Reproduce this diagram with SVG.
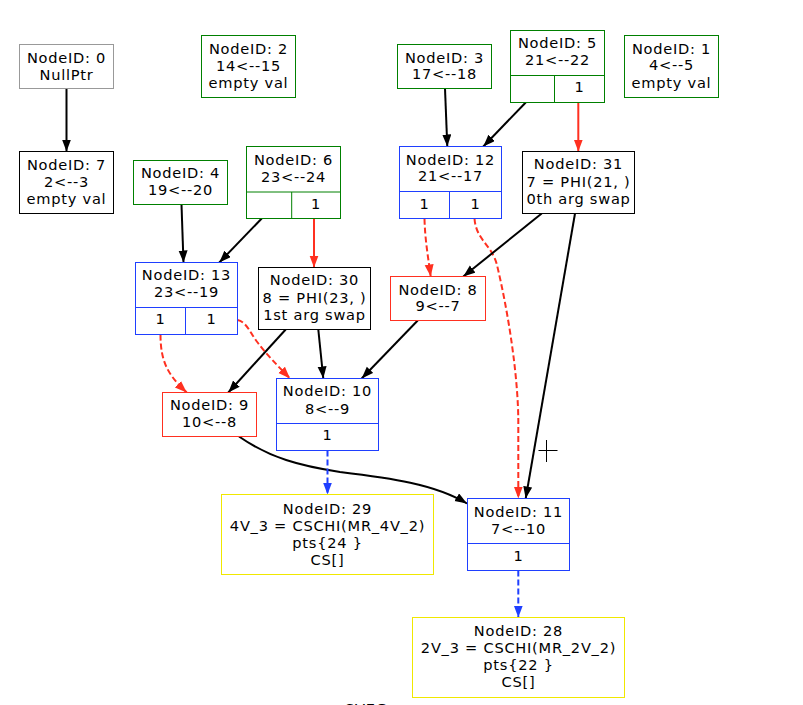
<svg xmlns="http://www.w3.org/2000/svg" width="803" height="705" viewBox="0 0 803 705">
<style>
text{font-family:"DejaVu Sans","Liberation Sans",sans-serif;font-size:14.6px;letter-spacing:0.75px;text-anchor:middle;fill:#000}
.n{fill:#fff;stroke-width:1}
.g{stroke:#008000}.b{stroke:#1f3fff}.r{stroke:#ff3020}.k{stroke:#000}.y{stroke:#f0e800}.gr{stroke:#999}
.e{fill:none;stroke-width:2}
.ek{stroke:#000;marker-end:url(#ak)}
.er{stroke:#ff3020;marker-end:url(#ar)}
.eb{stroke:#1f3fff;marker-end:url(#ab)}
.d{stroke-dasharray:6,3}
</style>
<defs>
<marker id="ak" markerUnits="userSpaceOnUse" markerWidth="13" markerHeight="10" refX="12" refY="4.5" orient="auto"><path d="M0,0 L12,4.5 L0,9 Z" fill="#000"/></marker>
<marker id="ar" markerUnits="userSpaceOnUse" markerWidth="13" markerHeight="10" refX="12" refY="4.5" orient="auto"><path d="M0,0 L12,4.5 L0,9 Z" fill="#ff3020"/></marker>
<marker id="ab" markerUnits="userSpaceOnUse" markerWidth="13" markerHeight="10" refX="12" refY="4.5" orient="auto"><path d="M0,0 L12,4.5 L0,9 Z" fill="#1f3fff"/></marker>
</defs>
<rect width="803" height="705" fill="#fff"/>
<g id="connectors">
<path class="e ek" d="M66.5,88.5 L66.5,151.5"/>
<path class="e ek" d="M181.5,204.5 L183.5,262.5"/>
<path class="e ek" d="M261.7,218.5 L219.3,262.5"/>
<path class="e er" d="M314,218.5 L314,267.5"/>
<path class="e ek" d="M445,88.5 L447.3,146.5"/>
<path class="e ek" d="M525.7,102.5 L483.3,146.5"/>
<path class="e er" d="M578.3,102.5 L578.3,151.5"/>
<path class="e er d" d="M424.5,218.5 C425,240 428,256 430.7,276.5"/>
<path class="e er d" d="M474.5,218.5 C476,240 492,245 497,265 C510,320 518,380 518.3,420 L518.3,498.5"/>
<path class="e ek" d="M541.7,213.5 L463.3,276.5"/>
<path class="e ek" d="M575,213.5 L525.7,498.5"/>
<path class="e ek" d="M417.7,320.5 L361.7,378.5"/>
<path class="e ek" d="M318.3,329.5 L323.3,378.5"/>
<path class="e ek" d="M285.7,329.5 L228.3,392.5"/>
<path class="e er d" d="M160.5,334.5 C160.5,362 168,375 186.7,392.5"/>
<path class="e er d" d="M237.5,320 C247,322 250,333 258,343 C266,354 278,366 290,378.5"/>
<path class="e ek" d="M239,436.5 C270,458 300,466 340,472 C390,478 435,484 467,503.5"/>
<path class="e eb d" d="M327.5,450.5 L327.5,494.5"/>
<path class="e eb d" d="M518.3,570.5 L518.3,617.5"/>
</g>
<g id="node0"><rect class="n gr" x="19.5" y="44.5" width="94" height="44"/><text x="66.5" y="62.5">NodeID: 0</text><text x="66.5" y="79.5">NullPtr</text></g>
<g id="node7"><rect class="n k" x="19.5" y="151.5" width="94" height="62"/><text x="66.5" y="169.5">NodeID: 7</text><text x="66.5" y="186.5">2&lt;--3</text><text x="66.5" y="203.5">empty val</text></g>
<g id="node2"><rect class="n g" x="201.5" y="35.5" width="94" height="62"/><text x="248.5" y="53.5">NodeID: 2</text><text x="248.5" y="70.5">14&lt;--15</text><text x="248.5" y="87.5">empty val</text></g>
<g id="node4"><rect class="n g" x="133.5" y="160.5" width="94" height="44"/><text x="180.5" y="178">NodeID: 4</text><text x="180.5" y="195">19&lt;--20</text></g>
<g id="node6"><rect class="n g" x="246.5" y="146.5" width="94" height="72"/><path class="g" d="M246.5,192 H340.5 M291.7,192 V218.5" fill="none"/><text x="293.5" y="164.5">NodeID: 6</text><text x="293.5" y="181.5">23&lt;--24</text><text x="316" y="208.5">1</text></g>
<g id="node3"><rect class="n g" x="397.5" y="44.5" width="94" height="44"/><text x="444.5" y="62.5">NodeID: 3</text><text x="444.5" y="79">17&lt;--18</text></g>
<g id="node5"><rect class="n g" x="510.5" y="30.5" width="94" height="72"/><path class="g" d="M510.5,75.5 H604.5 M554.5,75.5 V102.5" fill="none"/><text x="557.5" y="48">NodeID: 5</text><text x="557.5" y="65">21&lt;--22</text><text x="579.5" y="92">1</text></g>
<g id="node1"><rect class="n g" x="624.5" y="35.5" width="94" height="62"/><text x="671.5" y="53.5">NodeID: 1</text><text x="671.5" y="70">4&lt;--5</text><text x="671.5" y="87.5">empty val</text></g>
<g id="node12"><rect class="n b" x="399.5" y="146.5" width="102" height="72"/><path class="b" d="M399.5,191.5 H501.5 M449.5,191.5 V218.5" fill="none"/><text x="450.5" y="164.5">NodeID: 12</text><text x="450.5" y="181">21&lt;--17</text><text x="424.5" y="208.5">1</text><text x="475.5" y="208.5">1</text></g>
<g id="node31"><rect class="n k" x="522.5" y="151.5" width="112" height="62"/><text x="578.5" y="169">NodeID: 31</text><text x="578.5" y="186.5">7 = PHI(21, )</text><text x="578.5" y="203.5">0th arg swap</text></g>
<g id="node13"><rect class="n b" x="135.5" y="262.5" width="102" height="72"/><path class="b" d="M135.5,307.5 H237.5 M185.5,307.5 V334.5" fill="none"/><text x="186.5" y="280">NodeID: 13</text><text x="186.5" y="297">23&lt;--19</text><text x="160.5" y="324">1</text><text x="211.5" y="324">1</text></g>
<g id="node30"><rect class="n k" x="258.5" y="267.5" width="112" height="62"/><text x="314.5" y="285">NodeID: 30</text><text x="314.5" y="302.5">8 = PHI(23, )</text><text x="314.5" y="319.5">1st arg swap</text></g>
<g id="node8"><rect class="n r" x="390.5" y="276.5" width="95" height="44"/><text x="438" y="294.5">NodeID: 8</text><text x="438" y="311">9&lt;--7</text></g>
<g id="node9"><rect class="n r" x="162.5" y="392.5" width="94" height="44"/><text x="209.5" y="409.5">NodeID: 9</text><text x="209.5" y="426.5">10&lt;--8</text></g>
<g id="node10"><rect class="n b" x="276.5" y="378.5" width="102" height="72"/><path class="b" d="M276.5,423.5 H378.5" fill="none"/><text x="327.5" y="396">NodeID: 10</text><text x="327.5" y="413.5">8&lt;--9</text><text x="327.5" y="440">1</text></g>
<g id="node29"><rect class="n y" x="221.5" y="494.5" width="212" height="80"/><text x="327.5" y="513.5">NodeID: 29</text><text x="327.5" y="530.5">4V_3 = CSCHI(MR_4V_2)</text><text x="327.5" y="547.5">pts{24 }</text><text x="327.5" y="564.5">CS[]</text></g>
<g id="node11"><rect class="n b" x="467.5" y="498.5" width="102" height="72"/><path class="b" d="M467.5,543.5 H569.5" fill="none"/><text x="518.5" y="516.5">NodeID: 11</text><text x="518.5" y="533.5">7&lt;--10</text><text x="518.5" y="560.5">1</text></g>
<g id="node28"><rect class="n y" x="412.5" y="617.5" width="212" height="80"/><text x="518.5" y="636">NodeID: 28</text><text x="518.5" y="653">2V_3 = CSCHI(MR_2V_2)</text><text x="518.5" y="670">pts{22 }</text><text x="518.5" y="687">CS[]</text></g>
<path d="M538.5,450.5 H557.5 M546.5,440 V462" stroke="#000" stroke-width="1" fill="none"/>
<text x="366.5" y="714">SVEG</text>
</svg>
